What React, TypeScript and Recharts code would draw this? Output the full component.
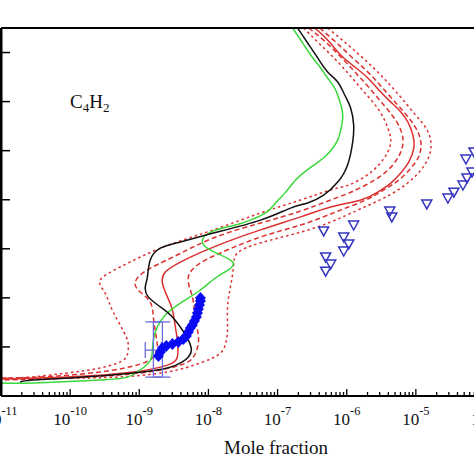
import React from "react";
import { ComposedChart, Line, Scatter, ErrorBar, XAxis, YAxis } from "recharts";

// mole fraction vs altitude (km); y tick labels fall outside the crop
const decades = [-11, -10, -9, -8, -7, -6, -5, -4];
const minorMantissas = [2, 3, 4, 5, 6, 7, 8, 9];
const altitudeTicks = [0, 200, 400, 600, 800, 1000, 1200, 1400];

const blackModel: [number, number][] = [
  [1.95e-7, 1500], [2.72e-7, 1439], [3.8e-7, 1378], [5.3e-7, 1321], [7.41e-7, 1280],
  [9.35e-7, 1227], [1.14e-6, 1174], [1.26e-6, 1105], [1.22e-6, 1035], [1.03e-6, 942],
  [7.41e-7, 872], [4.64e-7, 819], [2.72e-7, 787], [1.54e-7, 766], [5.67e-8, 717],
  [1.18e-8, 664], [3.93e-9, 628], [2.02e-9, 603], [1.44e-9, 554], [1.31e-9, 485],
  [1.22e-9, 444], [1.35e-9, 404], [2.02e-9, 363], [3.01e-9, 322], [4.2e-9, 269],
  [5.13e-9, 228], [5.67e-9, 187], [5.13e-9, 159], [4.2e-9, 139], [2.55e-9, 114],
  [8.19e-10, 94], [1.54e-10, 77], [2.91e-11, 65], [1.89e-11, 57],
];

const greenModel: [number, number][] = [
  [1.65e-7, 1500], [2.16e-7, 1451], [3.01e-7, 1390], [4.2e-7, 1337], [5.3e-7, 1296],
  [6.7e-7, 1255], [7.66e-7, 1215], [8.46e-7, 1174], [8.75e-7, 1133], [8.19e-7, 1084],
  [7.41e-7, 1043], [6.27e-7, 1011], [4.96e-7, 978], [3.55e-7, 946], [2.55e-7, 917],
  [1.82e-7, 880], [1.31e-7, 831], [9.35e-8, 787], [6.7e-8, 746], [4.06e-8, 717],
  [2.46e-8, 697], [1.18e-8, 673], [8.19e-9, 636], [9.67e-9, 603], [1.49e-8, 575],
  [2.08e-8, 554], [2.3e-8, 538], [1.95e-8, 514], [1.26e-8, 481], [7.66e-9, 432],
  [3.93e-9, 379], [2.38e-9, 330], [1.82e-9, 281], [1.6e-9, 228], [1.54e-9, 179],
  [1.4e-9, 139], [1.03e-9, 106], [6.7e-10, 77], [2.72e-10, 65], [2.91e-11, 53], [1e-11, 53],
];

const redNominal: [number, number][] = [
  [3.44e-7, 1500], [5.3e-7, 1451], [8.19e-7, 1390], [1.31e-6, 1341], [2.02e-6, 1296],
  [3.11e-6, 1239], [4.34e-6, 1198], [6.06e-6, 1158], [7.66e-6, 1117], [9.05e-6, 1064],
  [9.35e-6, 1011], [7.92e-6, 954], [6.06e-6, 909], [4.34e-6, 868], [2.81e-6, 831],
  [1.6e-6, 799], [5.86e-7, 770], [2.16e-7, 730], [5.67e-8, 677], [1.18e-8, 607],
  [3.93e-9, 546], [2.38e-9, 505], [2.16e-9, 461], [2.55e-9, 404], [3.01e-9, 351],
  [3.33e-9, 281], [3.55e-9, 228], [3.55e-9, 159], [2.55e-9, 126], [8.19e-10, 98],
  [9.05e-11, 77], [1e-11, 69],
];

const redInnerLow: [number, number][] = [
  [2.81e-7, 1500], [4.96e-7, 1443], [9.67e-7, 1361], [1.89e-6, 1272], [3.44e-6, 1186],
  [5.3e-6, 1117], [6.48e-6, 1052], [6.06e-6, 995], [4.64e-6, 942], [3.11e-6, 897],
  [1.89e-6, 860], [1.07e-6, 827], [5.86e-7, 799], [2.16e-7, 754], [5.67e-8, 705],
  [1.18e-8, 644], [3.11e-9, 567], [1.31e-9, 514], [8.75e-10, 465], [1.03e-9, 424],
  [1.44e-9, 383], [1.6e-9, 322], [1.71e-9, 261], [1.82e-9, 200], [1.6e-9, 159],
  [1.03e-9, 130], [2.72e-10, 98], [3.67e-11, 77], [1e-11, 73],
];

const redOuterLow: [number, number][] = [
  [2.38e-7, 1500], [4.2e-7, 1431], [8.19e-7, 1349], [1.6e-6, 1255], [2.91e-6, 1166],
  [3.93e-6, 1092], [4.34e-6, 1043], [3.93e-6, 995], [2.91e-6, 942], [1.89e-6, 897],
  [1.07e-6, 860], [5.86e-7, 840], [2.16e-7, 799], [5.67e-8, 746], [1.18e-8, 677],
  [2.23e-9, 607], [5.3e-10, 526], [2.72e-10, 473], [3.01e-10, 432], [3.55e-10, 391],
  [4.2e-10, 342], [5.3e-10, 289], [6.48e-10, 240], [6.93e-10, 208], [6.7e-10, 167],
  [5.3e-10, 139], [2.72e-10, 114], [9.05e-11, 94], [2.63e-11, 77], [1e-11, 73],
];

const redInnerHigh: [number, number][] = [
  [4.06e-7, 1500], [6.93e-7, 1443], [1.22e-6, 1378], [2.23e-6, 1308], [4.06e-6, 1227],
  [6.93e-6, 1153], [1.0e-5, 1092], [1.18e-5, 1035], [1.11e-5, 978], [8.46e-6, 929],
  [5.67e-6, 880], [3.44e-6, 840], [1.89e-6, 799], [9.67e-7, 766], [5.86e-7, 742],
  [2.16e-7, 697], [5.67e-8, 648], [1.49e-8, 583], [6.93e-9, 534], [5.13e-9, 485],
  [5.48e-9, 432], [6.06e-9, 383], [6.48e-9, 310], [6.93e-9, 269], [7.16e-9, 216],
  [6.06e-9, 159], [3.93e-9, 126], [1.03e-9, 94], [9.05e-11, 73], [1e-11, 65],
];

const redOuterHigh: [number, number][] = [
  [5.3e-7, 1500], [9.67e-7, 1439], [1.71e-6, 1378], [3.11e-6, 1308], [5.67e-6, 1227],
  [9.67e-6, 1149], [1.4e-5, 1092], [1.65e-5, 1035], [1.54e-5, 974], [1.18e-5, 921],
  [7.92e-6, 872], [4.64e-6, 827], [2.63e-6, 791], [1.35e-6, 754], [5.86e-7, 709],
  [2.16e-7, 668], [5.67e-8, 624], [2.63e-8, 583], [2.3e-8, 526], [2.08e-8, 444],
  [1.89e-8, 363], [1.89e-8, 281], [1.82e-8, 228], [1.49e-8, 175], [7.66e-9, 135],
  [2.55e-9, 98], [4.8e-10, 77], [9.05e-11, 73], [1e-11, 69],
];

const diamondObs: [number, number][] = [
  [1.89e-9, 163], [2.02e-9, 179], [2.16e-9, 196], [2.46e-9, 204], [3.01e-9, 212],
  [3.67e-9, 220], [4.34e-9, 232], [4.8e-9, 245], [5.13e-9, 261], [5.48e-9, 277],
  [5.86e-9, 289], [6.27e-9, 306], [6.7e-9, 322], [6.93e-9, 338], [7.16e-9, 355],
  [7.41e-9, 371], [7.66e-9, 387], [7.66e-9, 399],
];

const triangleObs: [number, number][] = [
  [4.64e-7, 673], [1.26e-6, 697], [9.05e-7, 648], [1.07e-6, 620], [9.05e-7, 591],
  [4.96e-7, 567], [5.86e-7, 538], [4.96e-7, 509], [4.2e-6, 754], [4.49e-6, 730],
  [1.44e-5, 783], [2.91e-5, 807], [3.55e-5, 831], [4.8e-5, 860], [5.48e-5, 889],
  [6.48e-5, 913], [5.3e-5, 966], [6.93e-5, 995],
];

// point with error bars: [x, y, y err low, y err high, x err low, x err high]
const errPointA = [1.6e-9, 187, 110, 115, 0.38e-9, 0.48e-9];
const errPointB = [2.16e-9, 187, 110, 115];

const toRows = (pts: [number, number][]) => pts.map(([x, y]) => ({ x, y }));

const xTicks: number[] = [];
decades.forEach((e) => {
  xTicks.push(Math.pow(10, e));
  if (e < -4) minorMantissas.forEach((m) => xTicks.push(m * Math.pow(10, e)));
});

const serif = "'Liberation Serif', 'DejaVu Serif', serif";
const isMajor = (v: number) => Math.abs(Math.log10(v) - Math.round(Math.log10(v))) < 1e-6;

function BottomTick(props: any) {
  const { x, y, payload } = props;
  const major = isMajor(payload.value);
  return (
    <g>
      <line x1={x} x2={x} y1={y} y2={y - (major ? 7 : 4)} stroke="#000" strokeWidth={1.3} />
      {major && (
        <text x={x} y={y + 29} textAnchor="middle" fontFamily={serif} fontSize={17} fill="#111">
          10
          <tspan dy={-10} fontSize={12.5}>
            {String(Math.round(Math.log10(payload.value)))}
          </tspan>
        </text>
      )}
    </g>
  );
}

function TopTick(props: any) {
  const { x, y, payload } = props;
  const major = isMajor(payload.value);
  return <line x1={x} x2={x} y1={y} y2={y + (major ? 8 : 5)} stroke="#000" strokeWidth={1.3} />;
}

function LeftTick(props: any) {
  const { x, y } = props;
  return <line x1={x} x2={x + 9} y1={y} y2={y} stroke="#000" strokeWidth={1.5} />;
}

const Triangle = (props: any) => {
  const { cx, cy } = props;
  return (
    <path
      d={`M${cx - 5},${cy - 4}L${cx + 5},${cy - 4}L${cx},${cy + 5}Z`}
      fill="none"
      stroke="#3535c0"
      strokeWidth={1.5}
    />
  );
};

const Diamond = (props: any) => {
  const { cx, cy } = props;
  return <path d={`M${cx},${cy - 6}L${cx + 5.5},${cy}L${cx},${cy + 6}L${cx - 5.5},${cy}Z`} fill="#0a0af5" />;
};

const NoMark = () => <g />;

export default function App() {
  const red = "#dc3030";
  const errA = [{ x: errPointA[0], y: errPointA[1], ey: [errPointA[2], errPointA[3]], ex: [errPointA[4], errPointA[5]] }];
  const errB = [{ x: errPointB[0], y: errPointB[1], ey: [errPointB[2], errPointB[3]] }];
  return (
    <div
      style={{
        position: "absolute",
        left: 0,
        top: 0,
        width: 474,
        height: 474,
        overflow: "hidden",
        background: "#fff",
      }}
    >
      <ComposedChart width={492} height={474} margin={{ top: 27, right: 7, bottom: 77, left: 0 }}>
        <XAxis
          dataKey="x"
          type="number"
          scale="log"
          domain={[1e-11, 1e-4]}
          allowDataOverflow
          ticks={xTicks}
          interval={0}
          height={1}
          tickSize={0}
          tickMargin={0}
          tickLine={false}
          axisLine={{ stroke: "#000", strokeWidth: 2 }}
          tick={<BottomTick />}
        />
        <XAxis
          xAxisId="top"
          orientation="top"
          type="number"
          scale="log"
          domain={[1e-11, 1e-4]}
          allowDataOverflow
          ticks={xTicks}
          interval={0}
          height={1}
          tickSize={0}
          tickMargin={0}
          tickLine={false}
          axisLine={{ stroke: "#000", strokeWidth: 2 }}
          tick={<TopTick />}
        />
        <YAxis
          dataKey="y"
          type="number"
          domain={[0, 1500]}
          allowDataOverflow
          ticks={altitudeTicks}
          interval={0}
          width={1}
          tickSize={0}
          tickMargin={0}
          tickLine={false}
          axisLine={{ stroke: "#000", strokeWidth: 3 }}
          tick={<LeftTick />}
        />
        <Line data={toRows(redOuterLow)} dataKey="y" type="natural" stroke={red} strokeWidth={1.5} strokeDasharray="2.5 3" dot={false} activeDot={false} isAnimationActive={false} />
        <Line data={toRows(redOuterHigh)} dataKey="y" type="natural" stroke={red} strokeWidth={1.5} strokeDasharray="2.5 3" dot={false} activeDot={false} isAnimationActive={false} />
        <Line data={toRows(redInnerLow)} dataKey="y" type="natural" stroke={red} strokeWidth={1.5} strokeDasharray="5 3" dot={false} activeDot={false} isAnimationActive={false} />
        <Line data={toRows(redInnerHigh)} dataKey="y" type="natural" stroke={red} strokeWidth={1.5} strokeDasharray="5 3" dot={false} activeDot={false} isAnimationActive={false} />
        <Line data={toRows(redNominal)} dataKey="y" type="natural" stroke={red} strokeWidth={1.5} dot={false} activeDot={false} isAnimationActive={false} />
        <Line data={toRows(greenModel)} dataKey="y" type="natural" stroke="#3ad83a" strokeWidth={1.5} dot={false} activeDot={false} isAnimationActive={false} />
        <Line data={toRows(blackModel)} dataKey="y" type="natural" stroke="#111" strokeWidth={1.5} dot={false} activeDot={false} isAnimationActive={false} />
        <Scatter data={toRows(triangleObs)} shape={<Triangle />} isAnimationActive={false} />
        <Scatter data={errA} shape={<NoMark />} isAnimationActive={false}>
          <ErrorBar dataKey="ey" direction="y" width={8} stroke="#6a6ad8" strokeWidth={1.3} />
          <ErrorBar dataKey="ex" direction="x" width={8} stroke="#6a6ad8" strokeWidth={1.3} />
        </Scatter>
        <Scatter data={errB} shape={<NoMark />} isAnimationActive={false}>
          <ErrorBar dataKey="ey" direction="y" width={8} stroke="#6a6ad8" strokeWidth={1.3} />
        </Scatter>
        <Scatter data={toRows(diamondObs)} shape={<Diamond />} isAnimationActive={false} />
      </ComposedChart>
      <div
        style={{
          position: "absolute",
          left: 70,
          top: 92,
          fontFamily: serif,
          fontSize: 19,
          lineHeight: 1,
          color: "#111",
          whiteSpace: "nowrap",
        }}
      >
        C<sub style={{ fontSize: 13, verticalAlign: "-4px" }}>4</sub>H
        <sub style={{ fontSize: 13, verticalAlign: "-4px" }}>2</sub>
      </div>
      <div
        style={{
          position: "absolute",
          left: 176,
          top: 438,
          width: 200,
          textAlign: "center",
          fontFamily: serif,
          fontSize: 19,
          lineHeight: 1,
          color: "#111",
        }}
      >
        Mole fraction
      </div>
    </div>
  );
}
